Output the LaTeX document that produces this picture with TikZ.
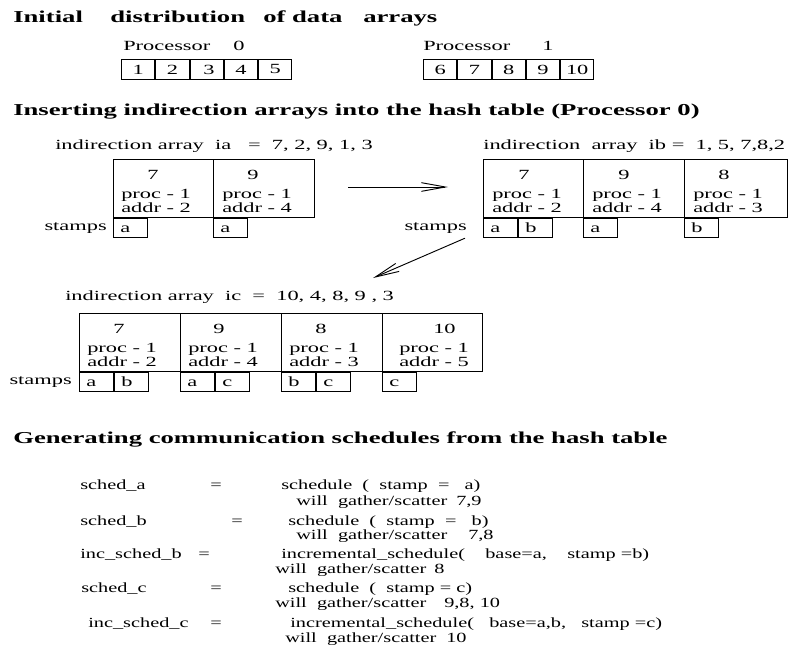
\documentclass[tikz,border=0pt]{standalone}
\usepackage{fontspec}
\setmainfont[FakeStretch=1.6]{Liberation Serif}
\newfontfamily\schedfont[FakeStretch=1.45]{Liberation Serif}
\usetikzlibrary{arrows.meta}
\newcommand{\hashcell}[8]{%
  \node[hcell, minimum width=#4*0.75pt] (#1) at (#2,#3) {};
  \node[txt] (#1key) at ([shift={(#5,20)}]#1.north west) {#7};
  \node[txt] (#1proc) at ([shift={(#6,39)}]#1.north west) {proc - 1};
  \node[txt] (#1addr) at ([shift={(#6,53)}]#1.north west) {addr - #8};
}

\begin{document}
\begin{tikzpicture}[
  x=0.75pt,
  y=-0.75pt,
  txt/.style={anchor=base west, inner sep=0pt, font=\fontsize{10.5}{12}\selectfont},
  sched/.style={anchor=base west, inner sep=0pt, font=\schedfont\fontsize{10.5}{12}\selectfont},
  head/.style={anchor=base west, inner sep=0pt, font=\fontsize{12.5}{14}\selectfont\bfseries},
  dcell/.style={draw, line width=0.7pt, anchor=north west, minimum width=25pt, minimum height=15pt, inner sep=0pt, font=\fontsize{10.5}{12}\selectfont},
  hcell/.style={draw, line width=0.7pt, anchor=north west, minimum height=43.5pt, inner sep=0pt},
  stampbox/.style={draw, line width=0.7pt, anchor=north west, minimum height=14.25pt, inner sep=0pt, inner xsep=5.25pt, text width=15pt, text height=7pt, text depth=0pt, font=\fontsize{10.5}{12}\selectfont},
  arr/.style={line width=0.7pt, -{Straight Barb[length=18pt, width=6.5pt]}}
]
  \useasboundingbox (0,0) rectangle (799,654);

  % initial distribution
  \node[head] (h1a) at (13,22) {Initial};
  \node[head] (h1b) at (110,22) {distribution};
  \node[head] (h1c) at (263,22) {of data};
  \node[head] (h1d) at (363,22) {arrays};

  \node[txt] (pr0) at (123,50) {Processor};
  \node[txt] (pr0n) at (233,50) {0};
  \node[dcell] (d1) at (121,59) {1};
  \node[dcell] (d2) at (d1.north east) {2};
  \node[dcell, text width=12pt, align=right] (d3) at (d2.north east) {3};
  \node[dcell] (d4) at (d3.north east) {4};
  \node[dcell] (d5) at (d4.north east) {5};

  \node[txt] (pr1) at (423,50) {Processor};
  \node[txt] (pr1n) at (542,50) {1};
  \node[dcell] (d6) at (423,59) {6};
  \node[dcell] (d7) at (d6.north east) {7};
  \node[dcell] (d8) at (d7.north east) {8};
  \node[dcell] (d9) at (d8.north east) {9};
  \node[dcell] (d10) at (d9.north east) {10};

  % hash table
  \node[head] (h2) at (13,115) {Inserting indirection arrays into the hash table (Processor 0)};

  \node[txt] (ia) at (55,149) {indirection array\ \ ia\ \ \ =\ \ 7, 2, 9, 1, 3};
  \hashcell{t1a}{113}{159}{100}{34}{8}{7}{2}
  \hashcell{t1b}{213}{159}{101}{34}{9}{9}{4}
  \node[stampbox] (t1as1) at (t1a.south west) {a};
  \node[stampbox] (t1bs1) at (t1b.south west) {a};
  \node[txt, anchor=base east] (t1st) at ([shift={(-6,13)}]t1a.south west) {stamps};

  \node[txt] (ib) at (483,149) {indirection\ \ array\ \ ib =\ \ 1, 5, 7,8,2};
  \hashcell{t2a}{483}{159}{100}{35}{9}{7}{2}
  \hashcell{t2b}{583}{159}{101}{35}{9}{9}{4}
  \hashcell{t2c}{684}{159}{103}{34}{9}{8}{3}
  \node[stampbox] (t2as1) at (t2a.south west) {a};
  \node[stampbox] (t2as2) at (t2as1.north east) {b};
  \node[stampbox] (t2bs1) at (t2b.south west) {a};
  \node[stampbox] (t2cs1) at (t2c.south west) {b};
  \node[txt, anchor=base east] (t2st) at ([shift={(-16,13)}]t2a.south west) {stamps};

  \coordinate (a1start) at (348,187);
  \coordinate (a1end) at (448,187);
  \draw[arr] (a1start) -- (a1end);

  \node[txt] (ic) at (65,300) {indirection array\ \ ic\ \ =\ \ 10, 4, 8, 9 , 3};
  \hashcell{t3a}{79}{313}{101}{34}{8}{7}{2}
  \hashcell{t3b}{180}{313}{101}{33}{8}{9}{4}
  \hashcell{t3c}{281}{313}{101}{34}{8}{8}{3}
  \hashcell{t3d}{382}{313}{100}{51}{17}{10}{5}
  \node[stampbox] (t3as1) at (t3a.south west) {a};
  \node[stampbox] (t3as2) at (t3as1.north east) {b};
  \node[stampbox] (t3bs1) at (t3b.south west) {a};
  \node[stampbox] (t3bs2) at (t3bs1.north east) {c};
  \node[stampbox] (t3cs1) at (t3c.south west) {b};
  \node[stampbox] (t3cs2) at (t3cs1.north east) {c};
  \node[stampbox] (t3ds1) at (t3d.south west) {c};
  \node[txt, anchor=base east] (t3st) at ([shift={(-7,13)}]t3a.south west) {stamps};

  \coordinate (a2end) at (373,278);
  \draw[arr] ([shift={(-2,4)}]t2st.south east) -- (a2end);

  % schedules
  \node[head] (h3) at (13,443) {Generating communication schedules from the hash table};

  \node[sched] (sa) at (80,489) {sched\_a};
  \node[sched] (sae) at (210,489) {=};
  \node[sched] (sar) at (281,489) {schedule\ \ (\ \ stamp\ \ =\ \ \ a)};
  \node[sched] (saw) at (296,505) {will\ \ gather/scatter};
  \node[sched] (san) at (456,505) {7,9};

  \node[sched] (sb) at (80,525) {sched\_b};
  \node[sched] (sbe) at (231,525) {=};
  \node[sched] (sbr) at (288,525) {schedule\ \ (\ \ stamp\ \ =\ \ \ b)};
  \node[sched] (sbw) at (296,539) {will\ \ gather/scatter};
  \node[sched] (sbn) at (468,539) {7,8};

  \node[sched] (ib) at (80,558) {inc\_sched\_b};
  \node[sched] (ibe) at (198,558) {=};
  \node[sched] (ibr) at (281,558) {incremental\_schedule(\ \ \ \ base=a,\ \ \ \ stamp =b)};
  \node[sched] (ibw) at (275,573) {will\ \ gather/scatter};
  \node[sched] (ibn) at (434,573) {8};

  \node[sched] (sc) at (81,592) {sched\_c};
  \node[sched] (sce) at (210,592) {=};
  \node[sched] (scr) at (288,592) {schedule\ \ (\ \ stamp = c)};
  \node[sched] (scw) at (275,607) {will\ \ gather/scatter};
  \node[sched] (scn) at (444,607) {9,8, 10};

  \node[sched] (ic) at (88,627) {inc\_sched\_c};
  \node[sched] (ice) at (210,627) {=};
  \node[sched] (icr) at (290,627) {incremental\_schedule(\ \ \ base=a,b,\ \ \ stamp =c)};
  \node[sched] (icw) at (285,642) {will\ \ gather/scatter};
  \node[sched] (icn) at (446,642) {10};
\end{tikzpicture}
\end{document}
